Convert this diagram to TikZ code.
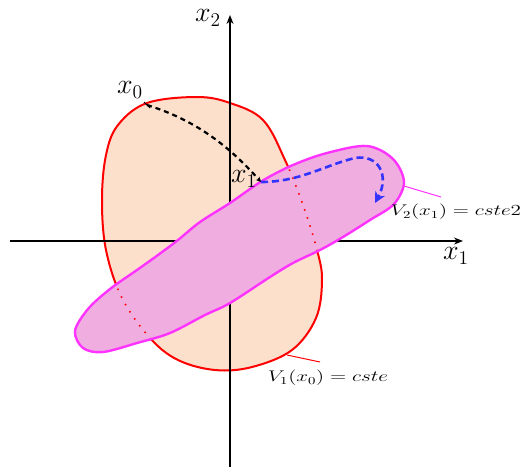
\documentclass[tikz,border=0pt]{standalone}
\usetikzlibrary{arrows.meta,calc}
\definecolor{peach}{RGB}{252,224,204}
\definecolor{pinkfill}{RGB}{240,174,224}
\definecolor{magline}{RGB}{255,51,255}
\definecolor{bluedash}{RGB}{51,51,255}
\newcommand\redshape{plot[smooth cycle, tension=0.6] coordinates {(147,103) (197,97) (230,103) (263,120) (285,160) (303,205) (317,250) (322,280) (316,318) (292,350) (252,367) (215,370) (178,360) (150,338) (122,298) (106,250) (102,200) (106,155) (118,125)}}
\newcommand\pinkshape{plot[smooth cycle, tension=0.55] coordinates {(88,309) (110,289) (137,270) (158,255) (178,240) (200,222) (230,203) (262,181) (293,165) (327,153) (367,146) (393,159) (404,182) (394,204) (370,220) (343,237) (320,250) (293,263) (270,277) (230,303) (205,315) (170,333) (137,343) (103,352) (83,348) (75,331)}}
\newcommand\mybiglab[1]{\scalebox{1.35}{$#1$}}
\newcommand\mysmalllab[1]{\scalebox{1.47}[1.07]{$#1$}}
\tikzset{
  axis/.style={line width=1.3pt, -{Stealth[length=9pt,width=7pt]}},
  bigmath/.style={font=\fontsize{20.74}{24}\selectfont, inner sep=0pt},
  smallmath/.style={font=\fontsize{14.4}{17}\selectfont, inner sep=0pt},
}
\begin{document}
\begin{tikzpicture}[x=1pt,y=-1pt]
\useasboundingbox (0,0) rectangle (522,467);
% red region
\fill[peach] \redshape;
\draw[red, line width=2pt] \redshape;
% axes
\coordinate (ax1s) at (10,241);
\coordinate (ax1e) at (463,241);
\coordinate (ax2s) at (230,467);
\coordinate (ax2e) at (230,15);
\draw[axis] (ax1s) -- (ax1e);
\draw[axis] (ax2s) -- (ax2e);
% pink region
\fill[pinkfill] \pinkshape;
\begin{scope}
  \clip \pinkshape;
  \draw[red, line width=1.6pt, dash pattern=on 1.5pt off 7pt] \redshape;
\end{scope}
\draw[magline, line width=2.4pt] \pinkshape;
% points
\coordinate (x0) at (147,105);
\coordinate (x1) at (261,182);
\draw[line width=2.2pt, dash pattern=on 5pt off 4pt, -{Stealth[length=5pt,width=5pt]}]
  (x0) .. controls (195,120) and (228,145) .. (x1);
\draw[black, line width=1pt] ($(x0)+(-3,-3)$) -- ($(x0)+(3,3)$);
\coordinate (bt) at (375,203);
\draw[bluedash, line width=2.6pt, dash pattern=on 7pt off 4pt, -{Stealth[length=11pt,width=11pt]}]
  (x1) .. controls (300,182) and (325,165) .. (355,158) .. controls (378,154) and (390,175) .. (bt);
% labels
\node[bigmath] (lx0) at (130,90) {\mybiglab{x_0}};
\node[bigmath] (lx1) at (244,179) {\mybiglab{x_1}};
\node[bigmath] (lax2) at (208,18) {\mybiglab{x_2}};
\node[bigmath] (lax1) at (456,256) {\mybiglab{x_1}};
\coordinate (p2) at (404,186);
\coordinate (p2e) at (441,197);
\draw[magline, line width=1pt] (p2) -- (p2e);
\node[smallmath] (lv2) at (456,212) {\mysmalllab{V_2(x_1) = cste2}};
\coordinate (p1) at (287,355);
\coordinate (p1e) at (320,362);
\draw[red, line width=1pt] (p1) -- (p1e);
\node[smallmath] (lv1) at (328,378) {\mysmalllab{V_1(x_0) = cste}};
\end{tikzpicture}
\end{document}
